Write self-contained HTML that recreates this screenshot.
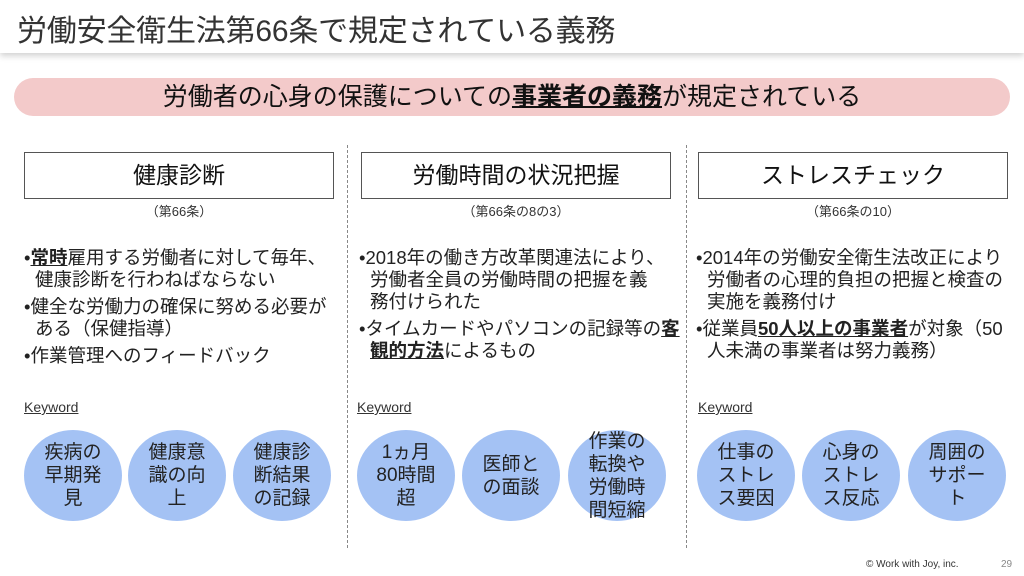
<!DOCTYPE html>
<html><head><meta charset="utf-8"><style>
*{margin:0;padding:0;box-sizing:border-box}
body{width:1024px;height:576px;background:#fff;position:relative;overflow:hidden;font-family:"Liberation Sans","Noto Sans CJK JP",sans-serif;color:#222}
.hdr{position:absolute;left:0;top:0;width:1024px;height:53px;background:#fff;box-shadow:0 3px 6px rgba(0,0,0,.18)}
.hdr div{position:absolute;left:17px;top:6px;font-size:30px;color:#333;letter-spacing:-0.2px}
.banner{position:absolute;left:14px;top:78px;width:996px;height:38px;background:#f3caca;border-radius:19px;text-align:center;font-size:25px;line-height:38px;color:#111}
.banner u{font-weight:bold;text-decoration-thickness:2px}
.box{position:absolute;top:152px;width:310px;height:47px;border:1px solid #555;text-align:center;font-size:23px;line-height:45px;color:#111}
.sub{position:absolute;top:201px;width:310px;text-align:center;font-size:13px;color:#333}
.txt{position:absolute;top:247px;width:312px;font-size:18.5px;line-height:22px;color:#222}
.txt p{padding-left:11px;text-indent:-11px;margin-bottom:5px}
.txt b u{font-weight:bold}
.nw p{white-space:nowrap}
.kw{position:absolute;top:399px;font-size:14px;text-decoration:underline;color:#333}
.c{position:absolute;top:430px;width:98px;height:91px;border-radius:50%;background:#a4c2f4;display:flex;align-items:center;justify-content:center;text-align:center;font-size:19px;line-height:23px;color:#222}
.dash{position:absolute;top:145px;height:403px;border-left:1.5px dashed #888}
.foot{position:absolute;left:866px;top:559px;font-size:10px;color:#333}
.pg{position:absolute;left:1001px;top:559px;font-size:10px;color:#888}
</style></head><body>
<div class="hdr"><div>労働安全衛生法第66条で規定されている義務</div></div>
<div class="banner">労働者の心身の保護についての<u>事業者の義務</u>が規定されている</div>
<div class="dash" style="left:347px"></div>
<div class="dash" style="left:686px"></div>

<div class="box" style="left:24px">健康診断</div>
<div class="sub" style="left:24px">（第66条）</div>
<div class="txt" style="left:24px"><p>•<b><u>常時</u></b>雇用する労働者に対して毎年、健康診断を行わねばならない</p><p>•健全な労働力の確保に努める必要がある（保健指導）</p><p>•作業管理へのフィードバック</p></div>
<div class="kw" style="left:24px">Keyword</div>
<div class="c" style="left:24px">疾病の<br>早期発<br>見</div>
<div class="c" style="left:128px">健康意<br>識の向<br>上</div>
<div class="c" style="left:233px">健康診<br>断結果<br>の記録</div>

<div class="box" style="left:361px">労働時間の状況把握</div>
<div class="sub" style="left:361px">（第66条の8の3）</div>
<div class="txt nw" style="left:359px;width:330px"><p>•2018年の働き方改革関連法により、<br>労働者全員の労働時間の把握を義<br>務付けられた</p><p>•タイムカードやパソコンの記録等の<b><u>客</u></b><br><b><u>観的方法</u></b>によるもの</p></div>
<div class="kw" style="left:357px">Keyword</div>
<div class="c" style="left:357px">1ヵ月<br>80時間<br>超</div>
<div class="c" style="left:462px">医師と<br>の面談</div>
<div class="c" style="left:568px">作業の<br>転換や<br>労働時<br>間短縮</div>

<div class="box" style="left:698px">ストレスチェック</div>
<div class="sub" style="left:698px">（第66条の10）</div>
<div class="txt nw" style="left:696px;width:326px"><p>•2014年の労働安全衛生法改正により<br>労働者の心理的負担の把握と検査の<br>実施を義務付け</p><p>•従業員<b><u>50人以上の事業者</u></b>が対象（50<br>人未満の事業者は努力義務）</p></div>
<div class="kw" style="left:698px">Keyword</div>
<div class="c" style="left:697px">仕事の<br>ストレ<br>ス要因</div>
<div class="c" style="left:802px">心身の<br>ストレ<br>ス反応</div>
<div class="c" style="left:908px">周囲の<br>サポー<br>ト</div>

<div class="foot">© Work with Joy, inc.</div>
<div class="pg">29</div>
</body></html>
